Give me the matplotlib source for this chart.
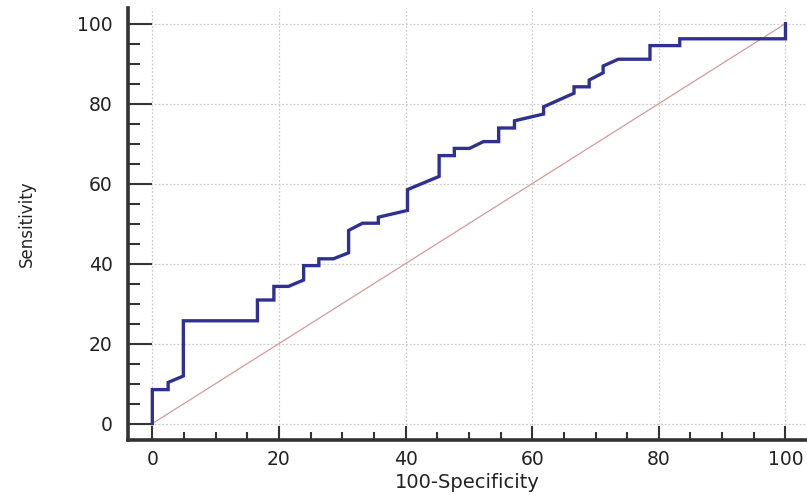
import matplotlib
matplotlib.use("Agg")
import matplotlib.pyplot as plt
from matplotlib.ticker import MultipleLocator

# ROC curve vertices (100-Specificity, Sensitivity)
fpr = [0, 0, 2.5, 2.5, 4.9, 4.9, 16.6, 16.6, 19.2, 19.2, 21.5, 23.9, 23.9, 26.3, 26.3,
       28.6, 31.0, 31.0, 33.2, 35.7, 35.7, 40.3, 40.3, 45.3, 45.3, 47.7, 47.7, 50.1,
       52.3, 54.7, 54.7, 57.2, 57.2, 61.8, 61.8, 66.6, 66.6, 69.0, 69.0, 71.2, 71.2,
       73.6, 78.6, 78.6, 83.3, 83.3, 100, 100]
tpr = [0, 8.5, 8.5, 10.3, 11.9, 25.7, 25.7, 30.9, 30.9, 34.3, 34.3, 35.9, 39.5, 39.5, 41.2,
       41.2, 42.7, 48.3, 50.1, 50.1, 51.6, 53.3, 58.5, 61.8, 67.0, 67.0, 68.8, 68.8,
       70.5, 70.5, 73.9, 73.9, 75.7, 77.4, 79.2, 82.6, 84.2, 84.2, 85.9, 87.7, 89.4,
       91.1, 91.1, 94.5, 94.5, 96.2, 96.2, 100]
ref_x = [0, 100]
ref_y = [0, 100]
ticks = [0, 20, 40, 60, 80, 100]

plt.rcParams['font.family'] = ['DejaVu Sans']
fig = plt.figure(figsize=(8.07, 4.95), dpi=100)
ax = fig.add_axes([128/807, 55/495, 1 - 128/807, (440 - 8)/495])

ax.plot(ref_x, ref_y, color='#d49a9a', linewidth=0.9, zorder=2)
ax.plot(fpr, tpr, color='#2e3192', linewidth=2.4, solid_joinstyle='miter', zorder=3)

ax.set_xlim(-3.84, 103.4)
ax.set_ylim(-4.1, 103.9)
ax.set_xticks(ticks)
ax.set_yticks(ticks)
ax.xaxis.set_minor_locator(MultipleLocator(5))
ax.yaxis.set_minor_locator(MultipleLocator(5))

ax.grid(True, which='major', color='#cccccc', linestyle=(0, (1.5, 1.5)), linewidth=0.9, zorder=0)

for s in ['top', 'right']:
    ax.spines[s].set_visible(False)
for s in ['left', 'bottom']:
    ax.spines[s].set_linewidth(2.6)
    ax.spines[s].set_color('#333333')

ax.tick_params(axis='y', which='major', direction='in', length=17.5, width=1.5, color='#333333', pad=11, labelsize=13.5, labelcolor='#222222')
ax.tick_params(axis='y', which='minor', direction='in', length=8.5, width=1.5, color='#333333')
ax.tick_params(axis='x', which='major', direction='in', length=10, width=1.5, color='#333333', pad=7, labelsize=13.5, labelcolor='#222222')
ax.tick_params(axis='x', which='minor', direction='in', length=6, width=1.5, color='#333333')

ax.set_xlabel('100-Specificity', fontsize=14, color='#222222', labelpad=3)
ax.set_ylabel('Sensitivity', fontsize=12, color='#222222', labelpad=30)

fig.savefig('out.png', dpi=100)
